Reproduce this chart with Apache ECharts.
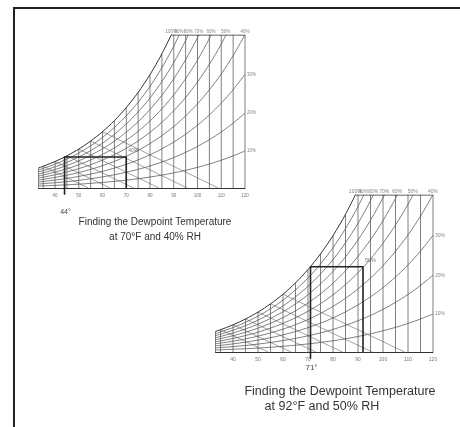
<!DOCTYPE html>
<html><head><meta charset="utf-8">
<script src="https://cdn.jsdelivr.net/npm/echarts@6/dist/echarts.min.js"></script>
<style>
html,body{margin:0;padding:0;background:#fff;overflow:hidden;}
#frame{position:absolute;left:13px;top:7px;width:460px;height:430px;border-top:2px solid #222;border-left:2px solid #222;}
#c{position:absolute;left:0;top:0;width:460px;height:427px;}
</style></head><body>
<div id="frame"></div><div id="c"></div>
<script>
// Dry-bulb temperatures (°F) and humidity ratio (g/kg)
const temps = [33,35,40,45,50,55,60,65,70,75,80,85,90,95,100,105,110,115,120];
const satW  = [3.93,4.26,5.19,6.31,7.63,9.20,11.04,13.21,15.76,18.75,22.24,26.31,31.05,36.57,43.00,50.47,59.15,69.26,81.06];
const rh10 = [0.39,0.42,0.52,0.63,0.75,0.91,1.09,1.30,1.54,1.83,2.15,2.53,2.97,3.47,4.05,4.70,5.45,6.30,7.26];
const rh20 = [0.78,0.85,1.03,1.25,1.51,1.82,2.18,2.60,3.09,3.66,4.32,5.09,5.97,6.99,8.15,9.48,10.99,12.72,14.68];
const rh30 = [1.17,1.27,1.55,1.88,2.27,2.73,3.27,3.91,4.65,5.51,6.51,7.67,9.00,10.54,12.30,14.33,16.64,19.27,22.29];
const rh40 = [1.57,1.70,2.07,2.51,3.03,3.65,4.37,5.22,6.21,7.37,8.71,10.26,12.06,14.13,16.51,19.25,22.38,25.97,30.07];
const rh50 = [1.96,2.12,2.59,3.14,3.79,4.56,5.47,6.54,7.78,9.23,10.92,12.88,15.15,17.76,20.78,24.25,28.23,32.80];
const rh60 = [2.35,2.55,3.11,3.77,4.55,5.49,6.58,7.86,9.36,11.11,13.15,15.52,18.27,21.44,25.10,29.33,34.19];
const rh70 = [2.74,2.97,3.63,4.40,5.32,6.41,7.69,9.19,10.95,13.01,15.40,18.18,21.41,25.16,29.49,34.49];
const rh80 = [3.14,3.40,4.15,5.03,6.09,7.33,8.80,10.53,12.55,14.91,17.66,20.87,24.59,28.92,33.93];
const rh90 = [3.53,3.83,4.67,5.67,6.86,8.26,9.92,11.87,14.15,16.82,19.94,23.58,27.81,32.72];
const rhCurves = [rh10,rh20,rh30,rh40,rh50,rh60,rh70,rh80,rh90];

// Low wet-bulb lines (lower-left hatching): start on saturation curve, end on bottom axis
const wbTemps  = [35,40,45,50,55,60];
const wbStartW = [4.26,5.19,6.31,7.63,9.20,11.04];
const wbEndT   = [54.0,63.2,73.1,83.8,95.7,108.7];
const wbEndW   = [0,0,0,0,0,0];

// Curve labels
const rhTopLabels = ['100%','90%','80%','70%','60%','50%','40%'];
const rhTopT      = [88.9,92.2,96.1,100.5,105.7,111.9,120];
const rhRightLabels = ['30%','20%','10%'];
const rhRightW      = [22.29,14.68,7.26];
const topW = 30;
const xTicks = [40,50,60,70,80,90,100,110,120];

// The two worked examples
const caseDewT  = [44, 71];
const caseDewW  = [6.07, 16.3];
const caseDryT  = [70, 92];
const caseRH    = ['40%', '50%'];
const caseTitle1 = ['Finding the Dewpoint Temperature','Finding the Dewpoint Temperature'];
const caseTitle2 = ['at 70°F and 40% RH','at 92°F and 50% RH'];

const grids = [
  {left:38.4, top:35, width:206.6, height:160.65},
  {left:215.5, top:195, width:217.5, height:164.85}
];
const lblSize = [4.5, 5];

const series = [];
function line(g, data, color, width, z) {
  series.push({type:'line', xAxisIndex:g, yAxisIndex:g, data, symbol:'none', silent:true,
    clip:true, lineStyle:{color, width}, animation:false, z:z||2});
}
for (let g = 0; g < 2; g++) {
  // dry-bulb verticals
  temps.forEach((t,i) => line(g, [[t,0],[t,satW[i]]], '#555', 0.75));
  // RH curves
  rhCurves.forEach(c => {
    series.push({type:'line', xAxisIndex:g, yAxisIndex:g, data:c.map((w,i)=>[temps[i],w]), symbol:'none',
      smooth:0.3, silent:true, clip:true, lineStyle:{color:'#555', width:0.75}, animation:false});
  });
  // wet-bulb lines
  wbTemps.forEach((t,i) => line(g, [[t,wbStartW[i]],[wbEndT[i],wbEndW[i]]], '#666', 0.6));
  // saturation curve
  series.push({type:'line', xAxisIndex:g, yAxisIndex:g, data:satW.slice(0,13).map((w,i)=>[temps[i],w]),
    symbol:'none', smooth:0.3, silent:true, clip:true, lineStyle:{color:'#333', width:1}, animation:false});
  // top edge
  line(g, [[rhTopT[0],topW],[120,topW]], '#333', 1);
  // example rectangle
  line(g, [[caseDewT[g],-1.3],[caseDewT[g],caseDewW[g]],[caseDryT[g],caseDewW[g]],[caseDryT[g],0]], '#222', 1.6, 3);
  // labels
  series.push({type:'scatter', xAxisIndex:g, yAxisIndex:g, symbolSize:0, silent:true, animation:false, clip:false,
    data: rhTopT.map((t,i)=>({value:[t,topW], label:{show:true, formatter:rhTopLabels[i], position:'top', distance:1,
      fontSize:lblSize[g], color:'#666', fontFamily:'Liberation Sans'}}))
      .concat(rhRightW.map((w,i)=>({value:[120,w], label:{show:true, formatter:rhRightLabels[i], position:'right', distance:2,
      fontSize:lblSize[g], color:'#666', fontFamily:'Liberation Sans'}})))
      .concat([{value:[caseDryT[g],caseDewW[g]], label:{show:true, formatter:caseRH[g], position:'right', distance:2, offset:[0,-6],
      fontSize:lblSize[g]+0.5, color:'#555', fontFamily:'Liberation Sans'}}])
  });
}

const xAxis = grids.map((gr,g)=>({type:'value', gridIndex:g, min:33, max:120,
  axisLine:{show:true, onZero:true, lineStyle:{color:'#333', width:1}},
  axisTick:{show:false}, splitLine:{show:false},
  axisLabel:{show:true, customValues:xTicks, fontSize:lblSize[g], color:'#777', margin:-2.5, fontFamily:'Liberation Sans'}}));
const yAxis = grids.map((gr,g)=>({type:'value', gridIndex:g, min:-1.5, max:30, show:false}));

const chart = echarts.init(document.getElementById('c'), null, {renderer:'canvas'});
chart.setOption({animation:false, backgroundColor:'transparent', grid:grids, xAxis, yAxis, series});

const titleFont = [10, 12.5];
const titleCenter1 = [155, 340];
const titleCenter2 = [155, 322];
const titleY = [[222,237],[392,407]];
const dewLabelDrop = [24, 16];
const graphic = [];
for (let g = 0; g < 2; g++) {
  const p = chart.convertToPixel({gridIndex:g}, [caseDewT[g], 0]);
  graphic.push({type:'text', x:p[0]+1, y:p[1]+dewLabelDrop[g], style:{text:caseDewT[g]+'°', fontSize:7+g, fill:'#444',
    align:'center', verticalAlign:'middle', fontFamily:'Liberation Sans'}});
  graphic.push({type:'text', x:titleCenter1[g], y:titleY[g][0], style:{text:caseTitle1[g], fontSize:titleFont[g], fill:'#333',
    align:'center', verticalAlign:'middle', fontFamily:'Liberation Sans'}});
  graphic.push({type:'text', x:titleCenter2[g], y:titleY[g][1], style:{text:caseTitle2[g], fontSize:titleFont[g], fill:'#333',
    align:'center', verticalAlign:'middle', fontFamily:'Liberation Sans'}});
}
chart.setOption({graphic});
</script>
</body></html>
